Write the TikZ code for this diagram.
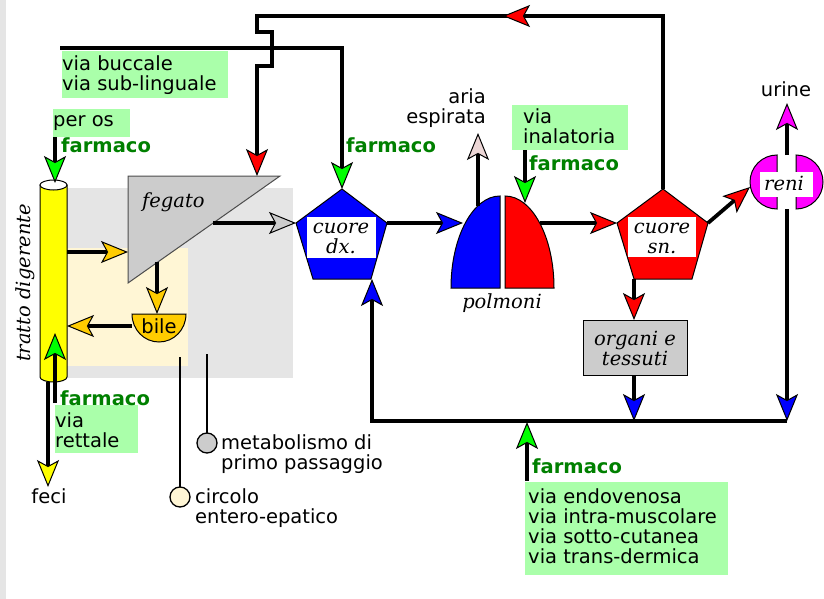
\documentclass[tikz,border=0pt]{standalone}
\usepackage{fontspec}
\setmainfont{DejaVu Sans}
\newfontfamily\serifit{DejaVu Serif}
\usetikzlibrary{arrows.meta}
\definecolor{gbox}{RGB}{170,255,170}
\definecolor{fgreen}{RGB}{0,128,0}
\definecolor{lgreen}{RGB}{0,255,0}
\definecolor{gold}{RGB}{255,204,0}
\definecolor{bggray}{RGB}{229,229,229}
\definecolor{cream}{RGB}{255,246,213}
\definecolor{liv}{RGB}{204,204,204}
\definecolor{pinkish}{RGB}{236,214,214}
\definecolor{mag}{RGB}{255,0,255}
\definecolor{rblue}{RGB}{0,0,255}
\definecolor{rred}{RGB}{255,0,0}
\definecolor{ryellow}{RGB}{255,255,0}
\begin{document}
\begin{tikzpicture}[x=1pt,y=-1pt,
  conn/.style={line width=3.8pt},
  arr/.style={-{Stealth[length=27pt,width=22pt,inset=6pt,fill=#1,line width=1pt]}},
  shp/.style={draw=black,line width=1pt},
  tx/.style={font=\fontsize{19.5}{20}\selectfont, inner sep=0pt, align=left},
  it/.style={font=\serifit\itshape\fontsize{19.5}{20}\selectfont, inner sep=0pt, align=center},
  fm/.style={font=\bfseries\fontsize{19.5}{20}\selectfont, text=fgreen, inner sep=0pt},
  pin/.style={line width=1.3pt}]
\useasboundingbox (0,0) rectangle (824,599);
% left strip and backgrounds
\fill[bggray] (0,0) rectangle (6,599);
\fill[bggray] (67,188) rectangle (293,378);
\fill[cream] (67,248) rectangle (188,366);
% green boxes
\fill[gbox] (62,51) rectangle (228,98);
\fill[gbox] (53,109) rectangle (130,137);
\fill[gbox] (512,105) rectangle (628,150);
\fill[gbox] (55,405) rectangle (138,453);
\fill[gbox] (525,482) rectangle (728,575);

% coordinates
\coordinate (colTop) at (55,183);
\coordinate (colR1) at (67,252);
\coordinate (colR2) at (67,326);
\coordinate (colBot) at (48,382);
\coordinate (colBot2) at (55,333);
\coordinate (fegTop) at (257,176);
\coordinate (fegHyp1) at (213,223);
\coordinate (fegHyp2) at (157,262);
\coordinate (fegLeft) at (128,252);
\coordinate (bileTop) at (157,314);
\coordinate (bileLeft) at (132,326);
\coordinate (cdxT) at (342,189);
\coordinate (cdxL) at (296,223);
\coordinate (cdxR) at (387,223);
\coordinate (cdxB) at (372,279);
\coordinate (csnT) at (663,189);
\coordinate (csnL) at (617,223);
\coordinate (csnR) at (708,223);
\coordinate (csnB) at (634,279);
\coordinate (polL) at (463,223);
\coordinate (polR) at (540,223);
\coordinate (polT1) at (478,206);
\coordinate (polT2) at (525,203);
\coordinate (reniL) at (750,187);
\coordinate (reniT) at (787,155);
\coordinate (reniB) at (787,209);
\coordinate (orgT) at (634,320);
\coordinate (orgB) at (634,375);
\coordinate (busL) at (372,421);
\coordinate (busM) at (634,421);
\coordinate (busR) at (787,421);
\coordinate (busF) at (527,422);
\coordinate (buccS) at (60,48);
\coordinate (peros) at (55,137);
\coordinate (rett) at (55,403);
\coordinate (feci) at (48,487);
\coordinate (aria) at (478,133);
\coordinate (urine) at (787,103);
\coordinate (inal) at (525,150);
\coordinate (endo) at (527,481);

% tratto digerente column
\draw[shp,fill=ryellow] (40,185) -- (40,377) .. controls (40,379.8) and (46,382) .. (53.5,382)
  .. controls (61,382) and (67,379.8) .. (67,377) -- (67,185) -- cycle;
\draw[shp,fill=white] (53.5,185) ellipse [x radius=13.5, y radius=5];
\node[it, rotate=90] (tratto) at (25,283) {tratto digerente};

% fegato
\draw[draw=black!70,line width=1pt,fill=liv] (128,176) -- (280,176) -- (128,283) -- cycle;
\node[it, anchor=base west] (fegato) at (142,207) {fegato};

% bile
\draw[shp,fill=gold] (132,314) -- (186,314) .. controls (186,329.5) and (174,342) .. (159,342)
  .. controls (144,342) and (132,329.5) .. (132,314) -- cycle;
\node[tx, anchor=base] (bile) at (159,333) {bile};

% cuore dx
\draw[shp,fill=rblue] (342,189) -- (387,223) -- (371,279) -- (313,279) -- (296,223) -- cycle;
\node[fill=white, minimum width=69pt, minimum height=41pt, inner sep=0pt] (cdxbox) at (341,237.5) {};
\node[it, anchor=base] (cdx) at (341,253) {cuore\\dx.};

% cuore sn
\draw[shp,fill=rred] (663,189) -- (708,223) -- (692,279) -- (634,279) -- (617,223) -- cycle;
\node[fill=white, minimum width=68pt, minimum height=40pt, inner sep=0pt] (csnbox) at (662,237) {};
\node[it, anchor=base] (csn) at (662,253) {cuore\\sn.};

% polmoni
\draw[shp,fill=rblue] (500,288) -- (451,288) .. controls (451,237.2) and (472.9,196) .. (500,196) -- cycle;
\draw[shp,fill=rred] (505,288) -- (554,288) .. controls (554,237.2) and (532.1,196) .. (505,196) -- cycle;
\node[it, anchor=base] (polmoni) at (502,308) {polmoni};

% reni
\draw[shp,fill=mag] (777,155) .. controls (762.1,155) and (750,167.1) .. (750,182)
  .. controls (750,196.9) and (762.1,209) .. (777,209) -- cycle;
\draw[shp,fill=mag] (796,155) .. controls (810.9,155) and (823,167.1) .. (823,182)
  .. controls (823,196.9) and (810.9,209) .. (796,209) -- cycle;
\node[fill=white, minimum width=53pt, minimum height=25pt, inner sep=0pt] (renibox) at (786.5,184.5) {};
\node[it, anchor=base] (reni) at (784,190) {reni};

% organi e tessuti
\node[shp, fill=liv, minimum width=104pt, minimum height=55pt, inner sep=0pt] (orgbox) at (635,347.5) {};
\node[it, anchor=base] (org) at (635,365) {organi e\\tessuti};

% pins
\draw[pin] (180,357) -- (180,487);
\draw[pin,fill=cream] (180,497) circle [radius=10];
\draw[pin] (207,354) -- (207,433);
\draw[pin,fill=liv] (207,443) circle [radius=10];

% connectors
\draw[conn] (csnT) -- (663,16) -- (257,16) -- (257,32) -- (272,32) -- (272,66) -- (257,66) -- (257,150);
\draw[conn,arr=rred] (257,150) -- (fegTop);
\draw[conn,arr=rred] (545,16) -- (503,16);
\draw[conn,arr=lgreen] (buccS) -- (342,48) -- (cdxT);
\draw[conn,arr=liv] (fegHyp1) -- (cdxL);
\draw[conn,arr=rblue] (cdxR) -- (polL);
\draw[conn,arr=rred] (polR) -- (csnL);
\draw[conn,arr=rred] (csnR) -- (reniL);
\draw[conn,arr=mag] (reniT) -- (urine);
\draw[conn,arr=rblue] (reniB) -- (busR);
\draw[conn,arr=rred] (csnB) -- (orgT);
\draw[conn,arr=rblue] (orgB) -- (busM);
\draw[conn,arr=rblue] (busR) -- (busL) -- (cdxB);
\draw[conn,arr=lgreen] (endo) -- (busF);
\draw[conn,arr=lgreen] (inal) -- (polT2);
\draw[conn,arr=pinkish] (polT1) -- (aria);
\draw[conn,arr=lgreen] (peros) -- (colTop);
\draw[conn,arr=gold] (colR1) -- (fegLeft);
\draw[conn,arr=gold] (fegHyp2) -- (bileTop);
\draw[conn,arr=gold] (bileLeft) -- (colR2);
\draw[conn,arr=lgreen] (rett) -- (colBot2);
\draw[conn,arr=ryellow] (colBot) -- (feci);

% texts (base anchor = baseline of the last line)
\node[tx, anchor=base west] (t1) at (62,91) {via buccale\\via sub-linguale};
\node[tx, anchor=base west] (t2) at (53,127) {per os};
\node[fm, anchor=base west] (f1) at (61,152) {farmaco};
\node[fm, anchor=base west] (f2) at (346,153) {farmaco};
\node[tx, anchor=base east, align=right] (t3) at (486,124) {aria\\espirata};
\node[tx, anchor=base west] (t4) at (523,143) {via\\inalatoria};
\node[fm, anchor=base west] (f3) at (529,170) {farmaco};
\node[tx, anchor=base] (t5) at (786,97) {urine};
\node[fm, anchor=base west] (f4) at (60,405) {farmaco};
\node[tx, anchor=base west] (t6) at (55,447) {via\\rettale};
\node[tx, anchor=base] (t7) at (49,503) {feci};
\node[tx, anchor=base west] (t8) at (221,469) {metabolismo di\\primo passaggio};
\node[tx, anchor=base west] (t9) at (195,523) {circolo\\entero-epatico};
\node[fm, anchor=base west] (f5) at (532,473) {farmaco};
\node[tx, anchor=base west] (t10) at (528,563) {via endovenosa\\via intra-muscolare\\via sotto-cutanea\\via trans-dermica};
\end{tikzpicture}
\end{document}
